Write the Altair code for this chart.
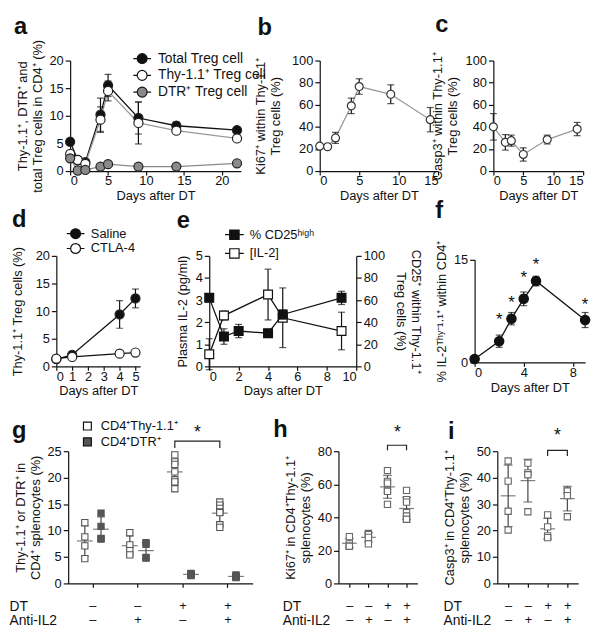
import altair as alt
import pandas as pd

FONT = "Liberation Sans"
INK = "#111111"

# ---------------- data ----------------
# panel a
a_days = [0, 1, 2, 4, 5, 9, 14, 22]
a_series = ["Total Treg cell", "Thy-1.1⁺ Treg cell", "DTR⁺ Treg cell"]
a_total = [5.3, 2.0, 1.6, 10.2, 15.5, 9.6, 8.2, 7.4]
a_total_err = [0.6, 0.3, 0.3, 3.0, 2.0, 2.9, 0.7, 0.4]
a_thy = [3.1, 2.0, 1.3, 9.3, 14.5, 8.7, 7.3, 5.9]
a_thy_err = [0.5, 0.3, 0.3, 2.3, 1.8, 3.8, 0.5, 0.5]
a_dtr = [2.3, 0.1, 0.2, 0.8, 1.25, 0.8, 0.8, 1.4]
a_dtr_err = [0.5, 0.1, 0.1, 0.2, 0.2, 0.1, 0.2, 0.2]

# panel b
b_days = [0, 1, 2, 4, 5, 9, 14]
b_ki67 = [22.5, 22, 30, 59, 76.5, 69.5, 46.5]
b_err = [2, 2, 5, 7, 7, 8.5, 11]

# panel c
c_days = [0, 2, 3, 5, 9, 14]
c_casp3 = [40, 26, 27.5, 15, 28.5, 38]
c_err = [12, 7, 5, 6, 4, 6]

# panel d
d_series = ["Saline", "CTLA-4"]
d_days = [0, 1, 4, 5]
d_saline = [1.3, 2.1, 9.4, 12.3]
d_saline_err = [0.4, 0.4, 2.5, 1.7]
d_ctla = [1.4, 1.7, 2.3, 2.5]
d_ctla_err = [0.3, 0.3, 0.3, 0.4]

# panel e
e_series = ["% CD25ʰⁱᵍʰ", "[IL-2]"]
e_cd25_days = [0, 1, 2, 4, 5, 9]
e_cd25 = [62, 27, 32, 30, 47, 62]
e_cd25_err = [1, 7, 6, 2, 4, 6]
e_il2_days = [0, 1, 4, 5, 9]
e_il2 = [0.55, 2.3, 3.25, 2.2, 1.6]
e_il2_err = [0.7, 0.2, 1.15, 1.35, 0.85]

# panel f
f_days = [0, 2, 3, 4, 5, 9]
f_il2 = [0.5, 3.1, 6.4, 9.3, 11.9, 6.2]
f_err = [0.2, 0.9, 0.9, 1.0, 0.7, 1.1]
f_star_days = [2, 3, 4, 5, 9]
f_star_y = [6.7, 9.3, 12.9, 14.8, 8.9]

# panels g, h, i
groups = ["–|–", "–|+", "+|–", "+|+"]   # DT | Anti-IL2
g_types = ["CD4⁺Thy-1.1⁺", "CD4⁺DTR⁺"]
g_thy = [[11.5, 8.8, 7.1, 4.7], [9.6, 7.3, 6.2, 5.4],
         [24.3, 23.0, 22.5, 21.1, 19.6, 19.2, 17.9],
         [15.4, 14.8, 14.2, 13.5, 13.4, 11.1, 10.6]]
g_dtr = [[13.3, 10.8, 8.5, 8.4], [7.7, 7.4, 4.9, 4.8],
         [1.9, 1.8, 1.7, 1.6, 1.5], [1.6, 1.4, 1.3, 1.2, 1.1]]
h_ki67 = [[28.3, 23.9, 22.5, 22.5], [30.2, 29.5, 27.9, 23.9],
          [68.3, 61.7, 60.7, 56.3, 55.7, 47.8],
          [56.3, 50.7, 49.2, 42.8, 40.8, 38.8, 38.8]]
i_casp3 = [[46.3, 38.7, 27.3, 20.2], [45.5, 41.8, 41.1, 27.1],
           [25.9, 21.4, 18.0, 17.3], [35.0, 34.9, 33.2, 25.2]]

# significance brackets (group, level)
g_br_grp = ["+|–", "+|–", "+|+", "+|+"]
g_br_y = [25.6, 26.9, 26.9, 25.6]
h_br_y = [80.6, 83.6, 83.6, 80.6]
i_br_y = [48.2, 50.3, 50.3, 48.2]

CIRCLE_LINE = "M-1.8,0H-1M1,0H1.8M1,0A1,1,0,1,1,-1,0A1,1,0,1,1,1,0Z"
SQUARE_LINE = "M-2,0H-1M1,0H2M-1,-1H1V1H-1Z"


def long_frame(names, days_list, vals_list, errs_list):
    rows = []
    for n, ds, vs, es in zip(names, days_list, vals_list, errs_list):
        for d, v, e in zip(ds, vs, es):
            rows.append({"day": d, "s": n, "v": v, "lo": v - e, "hi": v + e})
    return pd.DataFrame(rows)


def letter(t, dx=0, dy=0):
    return alt.TitleParams(t, anchor="start", frame="group", fontSize=24,
                           fontWeight="bold", font=FONT, color=INK, dx=dx, dy=dy,
                           baseline="alphabetic", offset=0)


def ts_layers(df, x_dom, x_ticks, y_dom, y_ticks, y_title, domain, fills,
              line_colors, pt_stroke, shape, size, legend=None, y_orient="left",
              title_pad=6):
    xs = alt.Scale(domain=x_dom, nice=False, zero=False)
    xa = alt.Axis(values=x_ticks, title="Days after DT", tickSize=4, labelPadding=0,
                  titlePadding=2)
    ys = alt.Scale(domain=y_dom, nice=False, zero=False)
    ya = alt.Axis(values=y_ticks, title=y_title, orient=y_orient, titlePadding=title_pad)
    base = alt.Chart(df)
    X = alt.X("day:Q", scale=xs, axis=xa)
    layers = []
    for name, col in zip(domain, line_colors):
        if name not in set(df["s"]):
            continue
        layers.append(base.transform_filter(alt.datum.s == name).mark_line(
            strokeWidth=1.3, color=col).encode(x=X, y=alt.Y("v:Q", scale=ys, axis=ya)))
    err = base.mark_rule(color=INK, strokeWidth=1.2).encode(
        x=X, y=alt.Y("lo:Q", scale=ys, axis=ya), y2="hi:Q")
    cap_lo = base.mark_tick(orient="horizontal", size=7, thickness=1.2, color=INK).encode(
        x=X, y=alt.Y("lo:Q", scale=ys, axis=ya))
    cap_hi = base.mark_tick(orient="horizontal", size=7, thickness=1.2, color=INK).encode(
        x=X, y=alt.Y("hi:Q", scale=ys, axis=ya))
    fill_kw = {"scale": alt.Scale(domain=domain, range=fills)}
    fill_kw["legend"] = legend if legend is not None else None
    pts = base.mark_point(filled=True, shape=shape, size=size, opacity=1,
                          stroke=pt_stroke, strokeWidth=1.2).encode(
        x=X, y=alt.Y("v:Q", scale=ys, axis=ya), fill=alt.Fill("s:N", **fill_kw))
    return layers + [err, cap_lo, cap_hi, pts]


def leg(x, y, symbol, size, row_pad, label_offset, font_size=13):
    return alt.Legend(orient="none", legendX=x, legendY=y, title=None,
                      symbolType=symbol, symbolSize=size, symbolStrokeColor=INK,
                      symbolStrokeWidth=1.2, labelFontSize=font_size, labelFont=FONT,
                      labelColor=INK, labelOffset=label_offset, rowPadding=row_pad,
                      padding=0)


# ---------------- panel a ----------------
a_df = long_frame(a_series, [a_days] * 3, [a_total, a_thy, a_dtr],
                  [a_total_err, a_thy_err, a_dtr_err])
pa = alt.layer(*ts_layers(
    a_df, [0, 22.5], [0, 5, 10, 15, 20], [0, 20], [0, 5, 10, 15, 20],
    ["Thy-1.1⁺, DTR⁺ and", "total Treg cells in CD4⁺ (%)"],
    a_series, [INK, "white", "#8a8a8a"], [INK, "#9a9a9a", "#8a8a8a"], "#222",
    "circle", 85, leg(66, -9, CIRCLE_LINE, 100, 1, 9, 14), title_pad=5)).properties(
    width=173, height=112, title=letter("a", -57, 19))

# ---------------- panel b ----------------
b_df = long_frame(["Ki67"], [b_days], [b_ki67], [b_err])
pb = alt.layer(*ts_layers(
    b_df, [0, 15], [0, 5, 10, 15], [0, 100], [0, 20, 40, 60, 80, 100],
    ["Ki67⁺ within Thy-1.1⁺", "Treg cells (%)"],
    ["Ki67"], ["white"], ["#9a9a9a"], "#333", "circle", 65, title_pad=9)).properties(
    width=120, height=112, title=letter("b", -63, 4))

# ---------------- panel c ----------------
c_df = long_frame(["Casp3"], [c_days], [c_casp3], [c_err])
pc = alt.layer(*ts_layers(
    c_df, [0, 15], [0, 5, 10, 15], [0, 100], [0, 20, 40, 60, 80, 100],
    ["Casp3⁺ within Thy-1.1⁺", "Treg cells (%)"],
    ["Casp3"], ["white"], ["#9a9a9a"], "#333", "circle", 65, title_pad=6)).properties(
    width=91, height=112, title=letter("c", -59, 4))

# ---------------- panel d ----------------
d_df = long_frame(d_series, [d_days] * 2, [d_saline, d_ctla], [d_saline_err, d_ctla_err])
pd_ = alt.layer(*ts_layers(
    d_df, [0, 5.3], [0, 1, 2, 3, 4, 5], [0, 20], [0, 5, 10, 15, 20],
    "Thy-1.1⁺ Treg cells (%)", d_series, [INK, "white"], [INK, INK], "#222",
    "circle", 85, leg(13, -29, CIRCLE_LINE, 100, 0, 9), title_pad=11)).properties(
    width=85, height=112, title=letter("d", -45, 24))

# ---------------- panel e ----------------
e_il2_df = long_frame([e_series[1]], [e_il2_days], [e_il2], [e_il2_err])
e_cd25_df = long_frame([e_series[0]], [e_cd25_days], [e_cd25], [e_cd25_err])
e_leg = leg(19, -28, SQUARE_LINE, 90, 4, 9)
e_left = alt.layer(*ts_layers(
    e_il2_df, [0, 10], [0, 2, 4, 6, 8, 10], [0, 5], [0, 1, 2, 3, 4, 5],
    "Plasma IL-2 (pg/ml)", e_series, [INK, "white"], [INK, INK], INK,
    "square", 80, e_leg, title_pad=6))
e_right = alt.layer(*ts_layers(
    e_cd25_df, [0, 10], [0, 2, 4, 6, 8, 10], [0, 100], [0, 20, 40, 60, 80, 100],
    ["CD25⁺ within Thy-1.1⁺", "Treg cells (%)"], e_series, [INK, "white"],
    [INK, INK], INK, "square", 80, e_leg, y_orient="right", title_pad=9))
pe = alt.layer(e_left, e_right).resolve_scale(y="independent").properties(
    width=149, height=112, title=letter("e", -33, 24))

# ---------------- panel f ----------------
f_df = long_frame(["IL2"], [f_days], [f_il2], [f_err])
f_star_df = pd.DataFrame({"day": f_star_days, "v": f_star_y})
f_layers = ts_layers(
    f_df, [0, 9], list(range(10)), [0, 15], [0, 5, 10, 15],
    "% IL-2ᵀʰʸ⁻¹·¹⁺ within CD4⁺", ["IL2"], [INK], [INK], INK, "circle", 90,
    title_pad=5)
f_stars = alt.Chart(f_star_df).mark_text(text="*", fontSize=17, font=FONT, color=INK,
                                         baseline="middle", dy=4).encode(
    x=alt.X("day:Q", scale=alt.Scale(domain=[0, 9], nice=False)),
    y=alt.Y("v:Q", scale=alt.Scale(domain=[0, 15], nice=False)))
pf = alt.layer(*f_layers, f_stars).properties(width=112, height=104,
                                               title=letter("f", -40, 2))


# ---------------- panels g, h, i ----------------
def group_axis(title_x):
    return alt.Axis(labelExpr="split(datum.label, '|')", labelAngle=0,
                    labelLineHeight=15, labelPadding=12, labelFontSize=13,
                    tickSize=4, title=["DT", "Anti-IL2"], titleAngle=0,
                    titleAlign="left", titleBaseline="top", titleX=title_x,
                    titleY=16, titleLineHeight=15, titleFontSize=14)


def dots_df(vals_by_group, type_name):
    rows = []
    for gname, vals in zip(groups, vals_by_group):
        for v in vals:
            rows.append({"grp": gname, "type": type_name, "v": v})
    return pd.DataFrame(rows)


g_df = pd.concat([dots_df(g_thy, g_types[0]), dots_df(g_dtr, g_types[1])])
g_x = alt.X("grp:N", sort=groups, scale=alt.Scale(paddingInner=0.1, paddingOuter=0.1),
            axis=group_axis(-60))
g_xo = alt.XOffset("type:N", sort=g_types, scale=alt.Scale(paddingOuter=0.25))
g_ys = alt.Scale(domain=[0, 25], nice=False)
g_ya = alt.Axis(values=[0, 5, 10, 15, 20, 25], titlePadding=5,
                title=["Thy-1.1⁺ or DTR⁺ in", "CD4⁺ splenocytes (%)"])
g_base = alt.Chart(g_df)
g_stats = g_base.transform_aggregate(
    m="mean(v)", sd="stdev(v)", groupby=["grp", "type"]).transform_calculate(
    lo="datum.m - datum.sd", hi="datum.m + datum.sd")
g_mean = g_stats.mark_tick(size=16, thickness=1.2, color="#444").encode(
    x=g_x, xOffset=g_xo, y=alt.Y("m:Q", scale=g_ys, axis=g_ya))
g_sd = g_stats.mark_rule(color="#444", strokeWidth=1.2).encode(
    x=g_x, xOffset=g_xo, y=alt.Y("lo:Q", scale=g_ys, axis=g_ya), y2="hi:Q")
g_cap1 = g_stats.mark_tick(size=8, thickness=1.2, color="#444").encode(
    x=g_x, xOffset=g_xo, y=alt.Y("lo:Q", scale=g_ys, axis=g_ya))
g_cap2 = g_stats.mark_tick(size=8, thickness=1.2, color="#444").encode(
    x=g_x, xOffset=g_xo, y=alt.Y("hi:Q", scale=g_ys, axis=g_ya))
g_pts = g_base.mark_point(shape="square", filled=True, size=40, opacity=1,
                          stroke="#555", strokeWidth=1.1).encode(
    x=g_x, xOffset=g_xo, y=alt.Y("v:Q", scale=g_ys, axis=g_ya),
    fill=alt.Fill("type:N", scale=alt.Scale(domain=g_types, range=["white", "#555555"]),
                  legend=leg(13, -32, "square", 64, 2, 7)))
g_br_df = pd.DataFrame({"grp": g_br_grp, "type": [g_types[0]] * 4, "v": g_br_y,
                        "k": [0, 1, 2, 3]})
g_br = alt.Chart(g_br_df).mark_line(color="#222", strokeWidth=1.2).encode(
    x=g_x, xOffset=g_xo, y=alt.Y("v:Q", scale=g_ys, axis=g_ya), order="k:Q")
g_star = alt.Chart(g_br_df).transform_filter("datum.k == 1").mark_text(
    text="*", fontSize=18, font=FONT, color=INK, baseline="alphabetic", dx=23, dy=-3).encode(
    x=g_x, xOffset=g_xo, y=alt.Y("v:Q", scale=g_ys, axis=g_ya))
pg = alt.layer(g_sd, g_cap1, g_cap2, g_mean, g_pts, g_br, g_star).properties(
    width=187, height=134, title=letter("g", -57, 43))


def single_dots(vals, y_dom, y_ticks, y_title, width, padding, title_x, br_y,
                star_dy, let, let_dx, let_dy):
    df = dots_df(vals, "x")
    X = alt.X("grp:N", sort=groups, scale=alt.Scale(type="point", padding=padding),
              axis=group_axis(title_x))
    ys = alt.Scale(domain=y_dom, nice=False)
    ya = alt.Axis(values=y_ticks, title=y_title, titlePadding=5)
    base = alt.Chart(df)
    stats = base.transform_aggregate(m="mean(v)", sd="stdev(v)", groupby=["grp"]) \
        .transform_calculate(lo="datum.m - datum.sd", hi="datum.m + datum.sd")
    mean = stats.mark_tick(size=15, thickness=1.2, color="#444").encode(
        x=X, y=alt.Y("m:Q", scale=ys, axis=ya))
    sd = stats.mark_rule(color="#444", strokeWidth=1.2).encode(
        x=X, y=alt.Y("lo:Q", scale=ys, axis=ya), y2="hi:Q")
    c1 = stats.mark_tick(size=9, thickness=1.2, color="#444").encode(
        x=X, y=alt.Y("lo:Q", scale=ys, axis=ya))
    c2 = stats.mark_tick(size=9, thickness=1.2, color="#444").encode(
        x=X, y=alt.Y("hi:Q", scale=ys, axis=ya))
    pts = base.mark_point(shape="square", filled=True, size=40, opacity=1,
                          fill="white", stroke="#666", strokeWidth=1.1).encode(
        x=X, y=alt.Y("v:Q", scale=ys, axis=ya))
    br_df = pd.DataFrame({"grp": g_br_grp, "v": br_y, "k": [0, 1, 2, 3]})
    br = alt.Chart(br_df).mark_line(color="#222", strokeWidth=1.2).encode(
        x=X, y=alt.Y("v:Q", scale=ys, axis=ya), order="k:Q")
    star = alt.Chart(br_df).transform_filter("datum.k == 1").mark_text(
        text="*", fontSize=18, font=FONT, color=INK, baseline="alphabetic",
        dx=10, dy=star_dy).encode(x=X, y=alt.Y("v:Q", scale=ys, axis=ya))
    return alt.layer(sd, c1, c2, mean, pts, br, star).properties(
        width=width, height=134, title=letter(let, let_dx, let_dy))


ph = single_dots(h_ki67, [0, 80], [0, 20, 40, 60, 80],
                 ["Ki67⁺ in CD4⁺Thy-1.1⁺", "splenocytes (%)"], 80, 0.57, -57,
                 h_br_y, -7, "h", -66, 37)
pi = single_dots(i_casp3, [0, 50], [0, 10, 20, 30, 40, 50],
                 ["Casp3⁺ in CD4⁺Thy-1.1⁺", "splenocytes (%)"], 82, 0.55, -55,
                 i_br_y, -10, "i", -50, 36)


# ---------------- layout ----------------
def spacer(w):
    return alt.Chart(pd.DataFrame({"z": [0]})).mark_point(opacity=0).encode(
        x=alt.value(0), y=alt.value(0)).properties(width=w, height=1)


IND = dict(fill="independent", stroke="independent")
row1 = alt.hconcat(spacer(14), pa, spacer(80), pb, spacer(56), pc,
                   spacing=0, bounds="flush").resolve_scale(**IND)
row2 = alt.hconcat(pd_, spacer(70), pe, spacer(120), pf,
                   spacing=0, bounds="flush", center=True).resolve_scale(**IND)
row3 = alt.hconcat(spacer(12), pg, spacer(87), ph, spacer(81), pi,
                   spacing=0, bounds="flush").resolve_scale(**IND)

chart = alt.vconcat(row1, row2, row3, spacing=198, bounds="flush").resolve_scale(
    **IND).properties(
    padding={"left": 0, "top": 0, "right": 0, "bottom": 0}
).configure(font=FONT).configure_view(stroke="transparent").configure_axis(
    domainColor=INK, tickColor=INK, labelColor=INK, titleColor=INK,
    domainWidth=1.2, tickWidth=1.2, tickSize=5, labelFontSize=13, titleFontSize=13,
    titleFontWeight="normal", grid=False, labelFont=FONT, titleFont=FONT,
    titleLineHeight=15, labelPadding=2, titlePadding=4
)

chart.save("out.html", embed_options={"renderer": "svg", "actions": False})
